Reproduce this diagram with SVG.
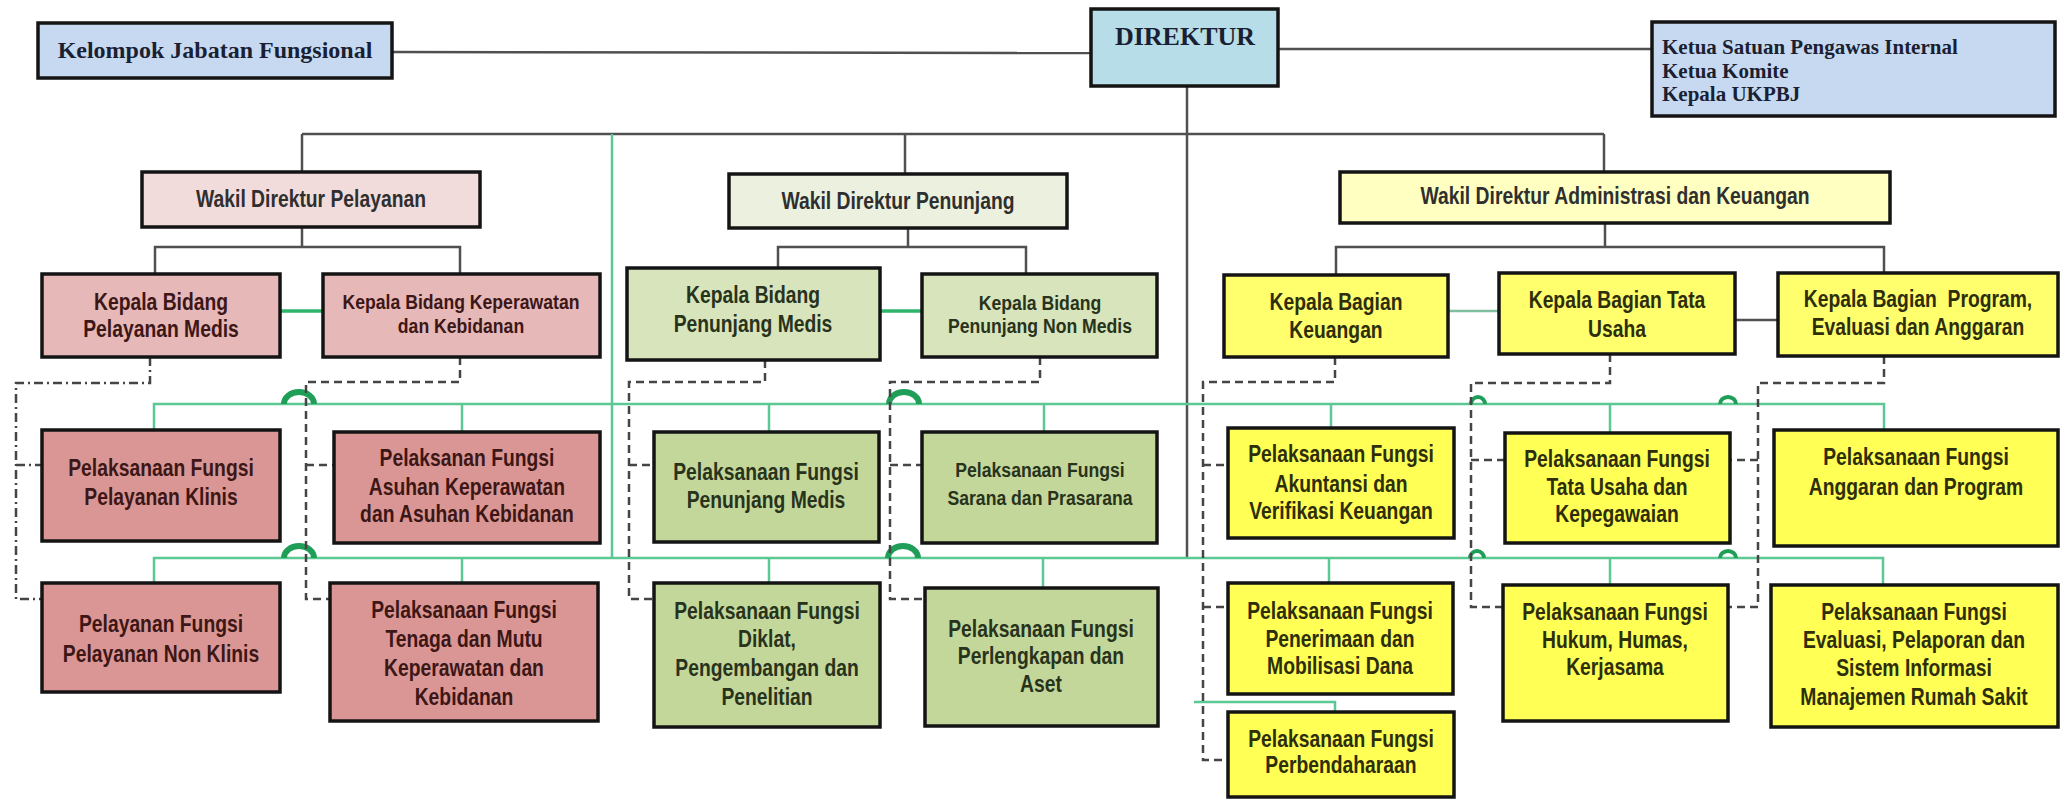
<svg xmlns="http://www.w3.org/2000/svg" width="2062" height="799" viewBox="0 0 2062 799">
<style>
.box{stroke:#141414;stroke-width:3.5}
.blue{fill:#c6d9f1}.cyan{fill:#b7dee8}
.p1{fill:#f2dcdb}.p2{fill:#e6b8b7}.p3{fill:#da9694}
.g1{fill:#ebf1de}.g2{fill:#d8e4bc}.g3{fill:#c4d79b}
.y1{fill:#ffffc2}.y2{fill:#ffff6e}.y3{fill:#ffff55}
.t{font-family:'Liberation Sans',Arial,sans-serif;font-weight:bold;font-size:23px;text-anchor:middle}
.s21{font-size:21px}
.tp{fill:#3d1616}.tg{fill:#28331b}.ty{fill:#2e2e0a}.tw{fill:#2f2f2f}
.serif{font-family:'Liberation Serif','Times New Roman',serif;font-weight:bold;fill:#1a1f33}
.ln{stroke:#505050;stroke-width:2.5;fill:none}
.gr{stroke:#5cc894;stroke-width:2.5;fill:none}
.gk{stroke:#2fb46c;stroke-width:3.5;fill:none}
.dash{stroke:#454545;stroke-width:2.5;stroke-dasharray:8 5;fill:none}
.dd{stroke-dasharray:9 4 2 4}
.hop{stroke:#1f9e58;stroke-width:6;fill:none}
.hs{stroke:#1f9e58;stroke-width:4;fill:none}
</style>
<rect width="2062" height="799" fill="#ffffff"/>
<g id="connectors">
  <line class="ln" x1="392" y1="52" x2="1091" y2="53"/>
  <line class="ln" x1="1278" y1="49" x2="1652" y2="49"/>
  <line class="ln" x1="1187" y1="86" x2="1187" y2="558"/>
  <line class="ln" x1="302" y1="134" x2="1604" y2="134"/>
  <line class="ln" x1="302" y1="134" x2="302" y2="172"/>
  <line class="ln" x1="905" y1="134" x2="905" y2="174"/>
  <line class="ln" x1="1604" y1="134" x2="1604" y2="172"/>
  <path class="ln" d="M302 227V247M155 274V247H460V274"/>
  <path class="ln" d="M908 228V247M778 268V247H1026V274"/>
  <path class="ln" d="M1605 223V247M1336 275V247H1884V273"/>
  <line class="ln" x1="1735" y1="320" x2="1778" y2="320"/>
  <line class="gr" x1="612" y1="134" x2="612" y2="558"/>
  <line class="gk" x1="280" y1="311" x2="323" y2="311"/>
  <line class="gk" x1="880" y1="311" x2="922" y2="311"/>
  <line class="gr" x1="1448" y1="311" x2="1499" y2="311" style="stroke:#7fbfa0"/>
  <path class="gr" d="M154 430V404H1884V430M462 404V432M769 404V432M1044 404V432M1331 404V428M1610 404V433"/>
  <path class="gr" d="M154 583V558H1883V585M462 558V583M769 558V583M1043 558V588M1329 558V583M1610 558V585"/>
  <path class="gr" d="M1194 702H1335V712"/>
  <path class="hop" d="M284 404A15 12 0 0 1 314 404"/>
  <path class="hop" d="M889 404A15 12 0 0 1 919 404"/>
  <path class="hs" d="M1471 404A7 7 0 0 1 1485 404"/>
  <path class="hs" d="M1720 404A8 7 0 0 1 1736 404"/>
  <path class="hop" d="M284 558A15 12 0 0 1 314 558"/>
  <path class="hop" d="M888 558A15 12 0 0 1 918 558"/>
  <path class="hs" d="M1470 558A7 7 0 0 1 1484 558"/>
  <path class="hs" d="M1720 558A8 7 0 0 1 1736 558"/>
  <path class="dash dd" d="M150 357V383H16V599H42M16 465H42"/>
  <path class="dash" d="M460 357V382H306V599H330M306 465H333"/>
  <path class="dash" d="M765 360V382H629V599H653M629 465H653"/>
  <path class="dash" d="M1040 357V382H890V599H925M890 465H921"/>
  <path class="dash" d="M1335 357V382H1203V760H1228M1203 465H1228M1203 607H1228"/>
  <path class="dash" d="M1610 354V383H1471V607H1503M1471 460H1505"/>
  <path class="dash" d="M1884 356V383H1758V607H1728M1758 460H1730"/>
</g>
<g id="n_kelompok"><rect class="box blue" x="38" y="23" width="354" height="55"/><text class="serif" x="215" y="58" font-size="24" text-anchor="middle">Kelompok Jabatan Fungsional</text></g>
<g id="n_direktur"><rect class="box cyan" x="1091" y="9" width="187" height="77"/><text class="serif" x="1185" y="45" font-size="26" text-anchor="middle">DIREKTUR</text></g>
<g id="n_ketua"><rect class="box blue" x="1652" y="22" width="403" height="94"/><text class="serif" font-size="21"><tspan x="1662" y="54">Ketua Satuan Pengawas Internal</tspan><tspan x="1662" y="78">Ketua Komite</tspan><tspan x="1662" y="101">Kepala UKPBJ</tspan></text></g>
<g id="n_wdp"><rect class="box p1" x="142" y="172" width="338" height="55"/><text class="t tw" transform="translate(311 0) scale(0.84 1)" x="0" y="207">Wakil Direktur Pelayanan</text></g>
<g id="n_wdpn"><rect class="box g1" x="729" y="174" width="338" height="54"/><text class="t tw" transform="translate(898 0) scale(0.84 1)" x="0" y="209">Wakil Direktur Penunjang</text></g>
<g id="n_wda"><rect class="box y1" x="1340" y="172" width="550" height="51"/><text class="t tw" transform="translate(1615 0) scale(0.84 1)" x="0" y="204">Wakil Direktur Administrasi dan Keuangan</text></g>
<g id="n_kbpm"><rect class="box p2" x="42" y="274" width="238" height="83"/><text class="t tp" transform="translate(161 0) scale(0.84 1)"><tspan x="0" y="310">Kepala Bidang</tspan><tspan x="0" y="337">Pelayanan Medis</tspan></text></g>
<g id="n_kbkp"><rect class="box p2" x="323" y="274" width="277" height="83"/><text class="t tp s21" transform="translate(461 0) scale(0.84 1)"><tspan x="0" y="309">Kepala Bidang Keperawatan</tspan><tspan x="0" y="333">dan Kebidanan</tspan></text></g>
<g id="n_kbpnm"><rect class="box g2" x="627" y="268" width="253" height="92"/><text class="t tg" transform="translate(753 0) scale(0.84 1)"><tspan x="0" y="303">Kepala Bidang</tspan><tspan x="0" y="332">Penunjang Medis</tspan></text></g>
<g id="n_kbpnn"><rect class="box g2" x="922" y="274" width="235" height="83"/><text class="t tg s21" transform="translate(1040 0) scale(0.84 1)"><tspan x="0" y="310">Kepala Bidang</tspan><tspan x="0" y="333">Penunjang Non Medis</tspan></text></g>
<g id="n_kbk"><rect class="box y2" x="1224" y="275" width="224" height="82"/><text class="t ty" transform="translate(1336 0) scale(0.84 1)"><tspan x="0" y="310">Kepala Bagian</tspan><tspan x="0" y="338">Keuangan</tspan></text></g>
<g id="n_kbtu"><rect class="box y2" x="1499" y="273" width="236" height="81"/><text class="t ty" transform="translate(1617 0) scale(0.84 1)"><tspan x="0" y="308">Kepala Bagian Tata</tspan><tspan x="0" y="337">Usaha</tspan></text></g>
<g id="n_kbpr"><rect class="box y2" x="1778" y="273" width="280" height="83"/><text class="t ty" transform="translate(1918 0) scale(0.84 1)"><tspan x="0" y="307" style="white-space:pre">Kepala Bagian  Program,</tspan><tspan x="0" y="335">Evaluasi dan Anggaran</tspan></text></g>
<g id="n_pfpk"><rect class="box p3" x="42" y="430" width="238" height="111"/><text class="t tp" transform="translate(161 0) scale(0.84 1)"><tspan x="0" y="476">Pelaksanaan Fungsi</tspan><tspan x="0" y="505">Pelayanan Klinis</tspan></text></g>
<g id="n_pfak"><rect class="box p3" x="334" y="432" width="266" height="111"/><text class="t tp" transform="translate(467 0) scale(0.84 1)"><tspan x="0" y="466">Pelaksanan Fungsi</tspan><tspan x="0" y="495">Asuhan Keperawatan</tspan><tspan x="0" y="522">dan Asuhan Kebidanan</tspan></text></g>
<g id="n_pfpm"><rect class="box g3" x="654" y="432" width="225" height="110"/><text class="t tg" transform="translate(766 0) scale(0.84 1)"><tspan x="0" y="480">Pelaksanaan Fungsi</tspan><tspan x="0" y="508">Penunjang Medis</tspan></text></g>
<g id="n_pfsp"><rect class="box g3" x="922" y="432" width="235" height="111"/><text class="t tg s21" transform="translate(1040 0) scale(0.84 1)"><tspan x="0" y="477">Pelaksanaan Fungsi</tspan><tspan x="0" y="505">Sarana dan Prasarana</tspan></text></g>
<g id="n_pfav"><rect class="box y3" x="1228" y="428" width="226" height="110"/><text class="t ty" transform="translate(1341 0) scale(0.84 1)"><tspan x="0" y="462">Pelaksanaan Fungsi</tspan><tspan x="0" y="492">Akuntansi dan</tspan><tspan x="0" y="519">Verifikasi Keuangan</tspan></text></g>
<g id="n_pftu"><rect class="box y3" x="1505" y="433" width="225" height="110"/><text class="t ty" transform="translate(1617 0) scale(0.84 1)"><tspan x="0" y="467">Pelaksanaan Fungsi</tspan><tspan x="0" y="495">Tata Usaha dan</tspan><tspan x="0" y="522">Kepegawaian</tspan></text></g>
<g id="n_pfap"><rect class="box y3" x="1774" y="430" width="284" height="116"/><text class="t ty" transform="translate(1916 0) scale(0.84 1)"><tspan x="0" y="465">Pelaksanaan Fungsi</tspan><tspan x="0" y="495">Anggaran dan Program</tspan></text></g>
<g id="n_pfnk"><rect class="box p3" x="42" y="583" width="238" height="109"/><text class="t tp" transform="translate(161 0) scale(0.84 1)"><tspan x="0" y="632">Pelayanan Fungsi</tspan><tspan x="0" y="662">Pelayanan Non Klinis</tspan></text></g>
<g id="n_pftm"><rect class="box p3" x="330" y="583" width="268" height="138"/><text class="t tp" transform="translate(464 0) scale(0.84 1)"><tspan x="0" y="618">Pelaksanaan Fungsi</tspan><tspan x="0" y="647">Tenaga dan Mutu</tspan><tspan x="0" y="676">Keperawatan dan</tspan><tspan x="0" y="705">Kebidanan</tspan></text></g>
<g id="n_pfdk"><rect class="box g3" x="654" y="583" width="226" height="144"/><text class="t tg" transform="translate(767 0) scale(0.84 1)"><tspan x="0" y="619">Pelaksanaan Fungsi</tspan><tspan x="0" y="647">Diklat,</tspan><tspan x="0" y="676">Pengembangan dan</tspan><tspan x="0" y="705">Penelitian</tspan></text></g>
<g id="n_pfpa"><rect class="box g3" x="925" y="588" width="233" height="138"/><text class="t tg" transform="translate(1041 0) scale(0.84 1)"><tspan x="0" y="637">Pelaksanaan Fungsi</tspan><tspan x="0" y="664">Perlengkapan dan</tspan><tspan x="0" y="692">Aset</tspan></text></g>
<g id="n_pfpd"><rect class="box y3" x="1228" y="583" width="225" height="111"/><text class="t ty" transform="translate(1340 0) scale(0.84 1)"><tspan x="0" y="619">Pelaksanaan Fungsi</tspan><tspan x="0" y="647">Penerimaan dan</tspan><tspan x="0" y="674">Mobilisasi Dana</tspan></text></g>
<g id="n_pfpb"><rect class="box y3" x="1228" y="712" width="226" height="85"/><text class="t ty" transform="translate(1341 0) scale(0.84 1)"><tspan x="0" y="747">Pelaksanaan Fungsi</tspan><tspan x="0" y="773">Perbendaharaan</tspan></text></g>
<g id="n_pfhk"><rect class="box y3" x="1503" y="585" width="225" height="136"/><text class="t ty" transform="translate(1615 0) scale(0.84 1)"><tspan x="0" y="620">Pelaksanaan Fungsi</tspan><tspan x="0" y="648">Hukum, Humas,</tspan><tspan x="0" y="675">Kerjasama</tspan></text></g>
<g id="n_pfev"><rect class="box y3" x="1771" y="585" width="287" height="142"/><text class="t ty" transform="translate(1914 0) scale(0.84 1)"><tspan x="0" y="620">Pelaksanaan Fungsi</tspan><tspan x="0" y="648">Evaluasi, Pelaporan dan</tspan><tspan x="0" y="676">Sistem Informasi</tspan><tspan x="0" y="705">Manajemen Rumah Sakit</tspan></text></g>
</svg>
